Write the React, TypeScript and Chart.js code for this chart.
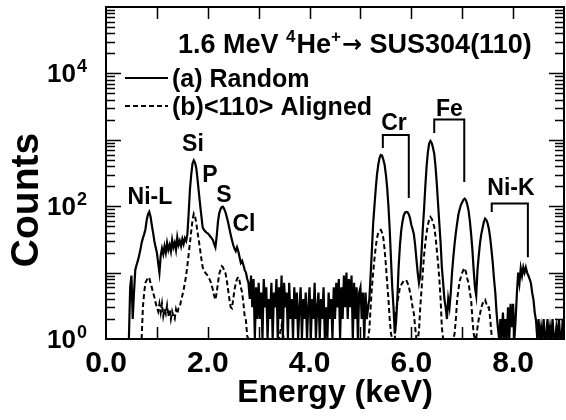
import { useEffect, useRef } from 'react';
import { Chart, registerables } from 'chart.js';

Chart.register(...registerables);

const FONT = "'Liberation Sans', Arial, Helvetica, sans-serif";
const SYMBOL_FONT = "'DejaVu Sans', 'Liberation Sans', sans-serif";

// Spectrum channels: energy (keV) = channel index * CHANNEL_WIDTH_KEV
const CHANNEL_WIDTH_KEV = 0.025;

// (a) Random incidence, counts per channel (one row = 1 keV, 40 channels)
const RANDOM_COUNTS: (number | null)[] = [
  // 0 keV
  null, null, null, null, null, null, null, null, null, null, null, null, null, null, null, null, null, null,
  1, 6, 9, 2, 5, 11, 13, 15, 18, 22, 28, 33, 38, 45, 62, 75, 82, 70, 52, 40, 30, 24,
  // 1 keV
  20, 14, 10, 18, 23, 19, 25, 20, 28, 22, 26, 21, 31, 24, 28, 22, 34, 26, 30, 25,
  32, 27, 33, 30, 38, 80, 180, 300, 440, 490, 450, 370, 250, 160, 105, 70, 48, 44, 42, 40,
  // 2 keV
  39, 37, 35, 33, 31, 27, 24, 35, 58, 78, 90, 97, 98, 90, 80, 68, 57, 46, 37, 31,
  26, 23, 21, 24, 21, 17, 14, 15, 13, 11, 10, 8, 7, 4, 9, 3, 8, 1, 6, 2,
  // 3 keV
  7, 2, 5, 1, 8, 3, 6, 1, 4, 2, 7, 1, 5, 3, 8, 1, 6, 2, 9, 1,
  7, 3, 5, 1, 7, 2, 4, 1, 6, 2, 5, 1, 3, 6, 1, 4, 2, 5, 1, 3,
  // 4 keV
  6, 1, 4, 2, 7, 1, 3, 5, 1, 4, 2, 6, 1, 3, 1, 5, 2, 4, 1, 6,
  2, 7, 3, 8, 1, 6, 2, 9, 3, 10, 2, 8, 3, 9, 1, 7, 2, 6, 1, 5,
  // 5 keV
  6, 2, 5, 1, 5, 2, 3, 4, 9, 22, 55, 100, 180, 300, 420, 530, 590, 580, 500, 420,
  300, 190, 100, 45, 16, 6, 3, 1.2, 1.8, 4, 12, 25, 42, 58, 72, 80, 82, 81, 76, 66,
  // 6 keV
  52, 45, 38, 26, 16, 10, 7, 9, 20, 45, 90, 200, 400, 650, 880, 960, 900, 760, 620, 400,
  220, 110, 55, 28, 12, 7, 4, 3, 2, 4, 3, 5, 10, 17, 27, 40, 55, 75, 90, 105,
  // 7 keV
  115, 125, 130, 122, 105, 85, 60, 38, 22, 11, 6, 4.5, 11, 18, 28, 38, 47, 58, 65, 62,
  55, 45, 33, 22, 14, 8, 5, 2.5, 1.5, 1, 2, 1, 2.5, 1, 2, 1, 3, 1, 3.4, 1.5,
  // 8 keV
  3.4, 1, 2, 5, 10, 7, 11.6, 9, 12, 10, 12, 10, 9, 8, 6.9, 5, 3.9, 2.5, 1.9, 1,
  2, 1, 1.5, 1, 2, 1, 1, 2, 1, 1.5, 1, 2, 1, 1, 1.5, 1, 2, 1, 1, 2,
  // 9 keV
  1,
];

// (b) <110> aligned incidence, counts per channel
const ALIGNED_COUNTS: (number | null)[] = [
  // 0 keV
  null, null, null, null, null, null, null, null, null, null, null, null, null, null,
  null, null, null, null, null, null, null, null, null, null, null, null, null, null,
  1, 3, 5, 7, 7.7, 8.5, 8.3, 7, 6, 5, 4.3, 3.5,
  // 1 keV
  3, 2.6, 3.4, 2.5, 3.4, 2.2, 2.8, 2.4, 3.2, 2.2, 2.8, 2, 2.6, 2.2, 2, 2.8, 2.4, 2.9, 3, 3.8,
  4.5, 5.5, 7, 9, 13, 19, 28, 42, 62, 77, 70, 55, 40, 30, 22, 16, 12, 11, 10, 9.5,
  // 2 keV
  9, 8.2, 7.5, 6.5, 5.5, 4.5, 3.9, 5, 7, 9.5, 11, 12.5, 12, 10.5, 9.7, 7.5, 5.5, 4, 3, 2.9,
  4, 5.5, 7, 8, 8.6, 7.5, 6, 5, 3.5, 2.2, 1.9, 1.1, 1, 1, 1, 1, 1, 1, 1, 1,
  // 3 keV
  1, 1, 1, 1, 1, 1, 1, 1, 1, 1, 1, 1, 1, 1, 1, 1, 1, 1.3, 1.6, 1.2,
  1, 1, 1, 1, 1, 1, 1, 1, 1, 1, 1, 1, 1, 1, 1, 1, 1, 1, 1, 1,
  // 4 keV
  1, 1, 1, 1, 1, 1, 1, 1, 1, 1, 1, 1, 1, 1, 1, 1, 1, 1, 1, 1,
  1, 1, 1, 1, 1, 1, 1, 1, 1, 1, 1, 1, 1, 1, 1, 1, 1, 1, 1, 1,
  // 5 keV
  1, 1, 1, 1, 1, 1, 1, 1.4, 3, 6, 10, 16, 24, 33, 40, 43, 44, 40, 33, 22,
  13, 7, 4, 2, 1.2, 1, 1, 1, 2.5, 3.5, 4.5, 6, 6.5, 7, 7.5, 7.7, 7.7, 7, 6.2, 5,
  // 6 keV
  4, 3, 2.4, 1.5, 1, 1, 1.3, 3, 5.5, 10, 18, 28, 40, 52, 63, 69, 65, 57, 49, 35,
  22, 14, 8, 4, 1.5, 1, 1, 1, 1, 1, 1, 1, 1, 1, 1.2, 2, 3.9, 5.5, 7.5, 8.6,
  // 7 keV
  10, 11, 11.7, 10, 8, 7, 5, 3.9, 2, 1.2, 1, 1, 1.5, 2, 2.4, 3, 3.4, 3.7, 3.9, 3.4,
  3, 3, 2, 1.2, 1, 1, 1, 1, 1, 1, 1, 1, 1, 1, 1, 1, 1, 1, 1, 1,
  // 8 keV
  1, 1, 1, 1, 1, 1, 1, 1, 1, 1, 1, 1, 1, 1, 1, 1, 1, 1, 1, 1,
  1, 1, 1, 1, 1, 1, 1, 1, 1, 1, 1, 1, 1, 1, 1, 1, 1, 1, 1, 1,
  // 9 keV
  1,
];

const SERIES_LABELS = ['(a) Random', '(b)<110> Aligned'];

const X_TICKS = [0, 2, 4, 6, 8];
const Y_TICKS = [1, 100, 10000];
const Y_TICK_BASE = '10';
const Y_TICK_EXPONENTS = ['0', '2', '4'];

const X_TITLE = 'Energy (keV)';
const Y_TITLE = 'Counts';

const TITLE_PARTS = [
  { text: '1.6 MeV ', kind: 'text' },
  { text: '4', kind: 'sup' },
  { text: 'He', kind: 'text' },
  { text: '+', kind: 'sup' },
  { text: '\u2192', kind: 'symbol' },
  { text: ' SUS304(110)', kind: 'text' },
];

// peak labels anchored in data coordinates (keV, counts)
const PEAK_LABELS = [
  { text: 'Ni-L', e: 0.864, c: 135 },
  { text: 'Si', e: 1.709, c: 835 },
  { text: 'P', e: 2.043, c: 290 },
  { text: 'S', e: 2.318, c: 145 },
  { text: 'Cl', e: 2.711, c: 52 },
  { text: 'Cr', e: 5.658, c: 1760 },
  { text: 'Fe', e: 6.749, c: 2810 },
  { text: 'Ni-K', e: 7.957, c: 182 },
];

// brackets joining K-alpha and K-beta lines, in data coordinates
const BRACKETS = [
  { e1: 5.44, e2: 5.95, top: 1180, leg1: 753, leg2: 133 },
  { e1: 6.45, e2: 7.04, top: 2020, leg1: 1266, leg2: 231 },
  { e1: 7.58, e2: 8.29, top: 110, leg1: 82, leg2: 17 },
];

const decorPlugin = {
  id: 'decor',
  afterDraw(chart: any) {
    const { ctx, chartArea: a, scales } = chart;
    const x = scales.x;
    const y = scales.y;
    ctx.save();
    ctx.strokeStyle = '#000';
    ctx.fillStyle = '#000';

    // frame
    ctx.lineWidth = 2;
    ctx.strokeRect(a.left, a.top, a.right - a.left, a.bottom - a.top);

    // inward ticks
    ctx.lineWidth = 1.5;
    ctx.beginPath();
    for (let e = 1; e <= 8; e++) {
      const px = Math.round(x.getPixelForValue(e)) + 0.5;
      ctx.moveTo(px, a.top);
      ctx.lineTo(px, a.top + 12);
      ctx.moveTo(px, a.bottom);
      ctx.lineTo(px, a.bottom - 12);
    }
    for (let k = 0; k < 5; k++) {
      for (let m = 1; m <= 9; m++) {
        const v = m * Math.pow(10, k);
        if (v <= 1 || v >= 1e5) continue;
        const py = Math.round(y.getPixelForValue(v)) + 0.5;
        const len = m === 1 ? 15 : 9;
        ctx.moveTo(a.left, py);
        ctx.lineTo(a.left + len, py);
        ctx.moveTo(a.right, py);
        ctx.lineTo(a.right - len, py);
      }
    }
    ctx.stroke();

    // y tick labels: 10 with superscript exponent
    ctx.textBaseline = 'alphabetic';
    Y_TICKS.forEach((v, i) => {
      const py = y.getPixelForValue(v);
      ctx.font = `bold 26px ${FONT}`;
      ctx.textAlign = 'right';
      ctx.fillText(Y_TICK_BASE, 76, py + 9);
      ctx.font = `bold 18px ${FONT}`;
      ctx.textAlign = 'left';
      ctx.fillText(Y_TICK_EXPONENTS[i], 77, py - 1);
    });

    // y title
    ctx.save();
    ctx.translate(27, 200);
    ctx.rotate(-Math.PI / 2);
    ctx.font = `bold 39px ${FONT}`;
    ctx.textAlign = 'center';
    ctx.textBaseline = 'middle';
    ctx.fillText(Y_TITLE, 0, 0);
    ctx.restore();

    // title inside the plot
    let tx = a.left + 72;
    const tBase = a.top + 46;
    ctx.textAlign = 'left';
    ctx.textBaseline = 'alphabetic';
    for (const p of TITLE_PARTS) {
      let yy = tBase;
      if (p.kind === 'sup') {
        ctx.font = `bold 17px ${FONT}`;
        yy = tBase - 11;
      } else if (p.kind === 'symbol') {
        ctx.font = `bold 24px ${SYMBOL_FONT}`;
        yy = tBase - 1;
      } else {
        ctx.font = `bold 27px ${FONT}`;
      }
      ctx.fillText(p.text, tx, yy);
      tx += ctx.measureText(p.text).width + (p.kind === 'sup' ? 1 : 0);
    }

    // legend
    const ds = chart.data.datasets;
    const rows = [a.top + 71, a.top + 99];
    ctx.font = `bold 25px ${FONT}`;
    ds.forEach((d: any, i: number) => {
      const ly = rows[i];
      ctx.save();
      ctx.lineWidth = d.borderWidth;
      ctx.setLineDash(d.borderDash || []);
      ctx.beginPath();
      ctx.moveTo(a.left + 19, ly);
      ctx.lineTo(a.left + 62, ly);
      ctx.stroke();
      ctx.restore();
      ctx.textAlign = 'left';
      ctx.textBaseline = 'alphabetic';
      ctx.fillText(d.label, a.left + 66, ly + 9);
    });

    // peak labels
    ctx.font = `bold 23px ${FONT}`;
    ctx.textAlign = 'center';
    ctx.textBaseline = 'middle';
    for (const l of PEAK_LABELS) {
      ctx.fillText(l.text, x.getPixelForValue(l.e), y.getPixelForValue(l.c));
    }

    // brackets
    ctx.lineWidth = 2;
    ctx.setLineDash([]);
    for (const b of BRACKETS) {
      const x1 = x.getPixelForValue(b.e1);
      const x2 = x.getPixelForValue(b.e2);
      ctx.beginPath();
      ctx.moveTo(x1, y.getPixelForValue(b.leg1));
      ctx.lineTo(x1, y.getPixelForValue(b.top));
      ctx.lineTo(x2, y.getPixelForValue(b.top));
      ctx.lineTo(x2, y.getPixelForValue(b.leg2));
      ctx.stroke();
    }
    ctx.restore();
  },
};

export default function App() {
  const ref = useRef<HTMLCanvasElement | null>(null);

  useEffect(() => {
    document.body.style.margin = '0';
    const canvas = ref.current;
    if (!canvas) return;
    const toPoints = (arr: (number | null)[]) =>
      arr.map((c, i) => ({ x: i * CHANNEL_WIDTH_KEV, y: c }));

    const chart = new Chart(canvas, {
      type: 'line',
      data: {
        datasets: [
          {
            label: SERIES_LABELS[0],
            data: toPoints(RANDOM_COUNTS) as any,
            borderColor: '#000',
            borderWidth: 2.2,
            pointRadius: 0,
            tension: 0,
            fill: false,
            spanGaps: false,
          },
          {
            label: SERIES_LABELS[1],
            data: toPoints(ALIGNED_COUNTS) as any,
            borderColor: '#000',
            borderWidth: 2,
            borderDash: [5, 3],
            pointRadius: 0,
            tension: 0,
            fill: false,
            spanGaps: false,
          },
        ],
      },
      options: {
        responsive: false,
        animation: false,
        layout: { padding: { left: 0, right: 2, top: 7, bottom: 0 } },
        plugins: {
          legend: { display: false },
          title: { display: false },
          tooltip: { enabled: false },
        },
        scales: {
          x: {
            type: 'linear',
            min: 0,
            max: 9,
            grid: { display: false, drawTicks: false },
            border: { display: false },
            afterBuildTicks: (s: any) => {
              s.ticks = X_TICKS.map((v) => ({ value: v }));
            },
            afterFit: (s: any) => {
              s.height = 81;
              s.paddingLeft = 0;
              s.paddingRight = 0;
            },
            ticks: {
              color: '#000',
              padding: 7,
              maxRotation: 0,
              font: { family: FONT, size: 30, weight: 'bold' },
              callback: (v: any) => Number(v).toFixed(1),
            },
            title: {
              display: true,
              text: X_TITLE,
              color: '#000',
              padding: { top: 0, bottom: 8 },
              font: { family: FONT, size: 32, weight: 'bold' },
            },
          },
          y: {
            type: 'logarithmic',
            min: 1,
            max: 100000,
            grid: { display: false, drawTicks: false },
            border: { display: false },
            afterBuildTicks: (s: any) => {
              s.ticks = Y_TICKS.map((v) => ({ value: v, major: true }));
            },
            afterFit: (s: any) => {
              s.width = 106;
              s.paddingTop = 0;
              s.paddingBottom = 0;
            },
            ticks: { display: false },
          },
        },
      },
      plugins: [decorPlugin],
    });
    return () => chart.destroy();
  }, []);

  return <canvas ref={ref} width={566} height={420} style={{ display: 'block' }} />;
}
